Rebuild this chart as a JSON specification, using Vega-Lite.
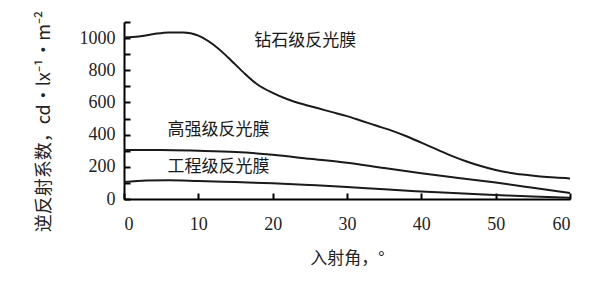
{
  "$schema": "https://vega.github.io/schema/vega-lite/v6.json",
  "width": 446,
  "height": 177,
  "autosize": {"type": "none"},
  "padding": {"left": 124, "top": 22, "right": 30, "bottom": 92},
  "background": "white",
  "config": {
    "view": {"stroke": null},
    "axis": {
      "domainColor": "black", "domainWidth": 2,
      "tickColor": "black", "tickWidth": 2, "tickSize": -6,
      "gridOpacity": 0,
      "labelFont": "Liberation Serif", "labelFontSize": 18, "labelColor": "#222", "labelOverlap": false,
      "titleFont": "Noto Sans CJK SC", "titleFontWeight": "normal", "titleColor": "#222"
    }
  },
  "datasets": {
    "curves": [
      {"film": "钻石级", "angle": 0, "value": 1005},
      {"film": "钻石级", "angle": 2, "value": 1010},
      {"film": "钻石级", "angle": 4, "value": 1025},
      {"film": "钻石级", "angle": 6, "value": 1035},
      {"film": "钻石级", "angle": 8, "value": 1035},
      {"film": "钻石级", "angle": 10, "value": 1015},
      {"film": "钻石级", "angle": 12, "value": 960},
      {"film": "钻石级", "angle": 14, "value": 880},
      {"film": "钻石级", "angle": 16, "value": 790},
      {"film": "钻石级", "angle": 18, "value": 710},
      {"film": "钻石级", "angle": 20, "value": 660},
      {"film": "钻石级", "angle": 22, "value": 620},
      {"film": "钻石级", "angle": 24, "value": 590},
      {"film": "钻石级", "angle": 26, "value": 565},
      {"film": "钻石级", "angle": 28, "value": 540},
      {"film": "钻石级", "angle": 30, "value": 515},
      {"film": "钻石级", "angle": 32, "value": 485},
      {"film": "钻石级", "angle": 34, "value": 455},
      {"film": "钻石级", "angle": 36, "value": 425},
      {"film": "钻石级", "angle": 38, "value": 390},
      {"film": "钻石级", "angle": 40, "value": 350},
      {"film": "钻石级", "angle": 42, "value": 310},
      {"film": "钻石级", "angle": 44, "value": 270},
      {"film": "钻石级", "angle": 46, "value": 235},
      {"film": "钻石级", "angle": 48, "value": 205},
      {"film": "钻石级", "angle": 50, "value": 180},
      {"film": "钻石级", "angle": 52, "value": 162},
      {"film": "钻石级", "angle": 54, "value": 150},
      {"film": "钻石级", "angle": 56, "value": 140},
      {"film": "钻石级", "angle": 58, "value": 133},
      {"film": "钻石级", "angle": 60, "value": 128},
      {"film": "高强级", "angle": 0, "value": 305},
      {"film": "高强级", "angle": 5, "value": 305},
      {"film": "高强级", "angle": 10, "value": 300},
      {"film": "高强级", "angle": 15, "value": 292},
      {"film": "高强级", "angle": 20, "value": 275},
      {"film": "高强级", "angle": 25, "value": 250},
      {"film": "高强级", "angle": 30, "value": 225},
      {"film": "高强级", "angle": 35, "value": 192},
      {"film": "高强级", "angle": 40, "value": 160},
      {"film": "高强级", "angle": 45, "value": 130},
      {"film": "高强级", "angle": 50, "value": 102},
      {"film": "高强级", "angle": 55, "value": 70},
      {"film": "高强级", "angle": 60, "value": 37},
      {"film": "工程级", "angle": 0, "value": 105},
      {"film": "工程级", "angle": 3, "value": 115},
      {"film": "工程级", "angle": 6, "value": 117},
      {"film": "工程级", "angle": 10, "value": 112},
      {"film": "工程级", "angle": 15, "value": 105},
      {"film": "工程级", "angle": 20, "value": 98},
      {"film": "工程级", "angle": 25, "value": 87},
      {"film": "工程级", "angle": 30, "value": 75},
      {"film": "工程级", "angle": 35, "value": 60},
      {"film": "工程级", "angle": 40, "value": 47},
      {"film": "工程级", "angle": 45, "value": 35},
      {"film": "工程级", "angle": 50, "value": 25},
      {"film": "工程级", "angle": 55, "value": 15},
      {"film": "工程级", "angle": 60, "value": 8}
    ],
    "labels": [
      {"text": "钻石级反光膜", "angle": 24.4, "value": 981},
      {"text": "高强级反光膜", "angle": 12.7, "value": 431},
      {"text": "工程级反光膜", "angle": 12.7, "value": 200}
    ]
  },
  "encoding": {
    "x": {
      "field": "angle", "type": "quantitative",
      "scale": {"domain": [0, 60], "nice": false},
      "axis": {
        "title": "入射角，°",
        "values": [0, 10, 20, 30, 40, 50, 60],
        "labelPadding": 22,
        "titleFontSize": 17,
        "titleBaseline": "middle", "titleY": 59
      }
    },
    "y": {
      "field": "value", "type": "quantitative",
      "scale": {"domain": [0, 1100], "nice": false},
      "axis": {
        "title": "逆反射系数，cd·lx⁻¹·m⁻²",
        "values": [0, 100, 200, 300, 400, 500, 600, 700, 800, 900, 1000, 1100],
        "labelExpr": "datum.value % 200 === 0 && datum.value <= 1000 ? datum.label : ''",
        "format": "d",
        "labelPadding": 15,
        "titleFontSize": 18,
        "titleBaseline": "middle", "titleAlign": "center", "titleAngle": -90,
        "titleX": -80, "titleY": 99
      }
    }
  },
  "layer": [
    {
      "data": {"name": "curves"},
      "mark": {"type": "line", "interpolate": "monotone", "color": "#1a1a1a", "strokeWidth": 2},
      "encoding": {
        "detail": {"field": "film"}
      }
    },
    {
      "data": {"name": "labels"},
      "mark": {"type": "text", "font": "Noto Sans CJK SC", "fontSize": 17, "color": "#1a1a1a", "align": "center", "baseline": "middle"},
      "encoding": {
        "text": {"field": "text"}
      }
    }
  ]
}
